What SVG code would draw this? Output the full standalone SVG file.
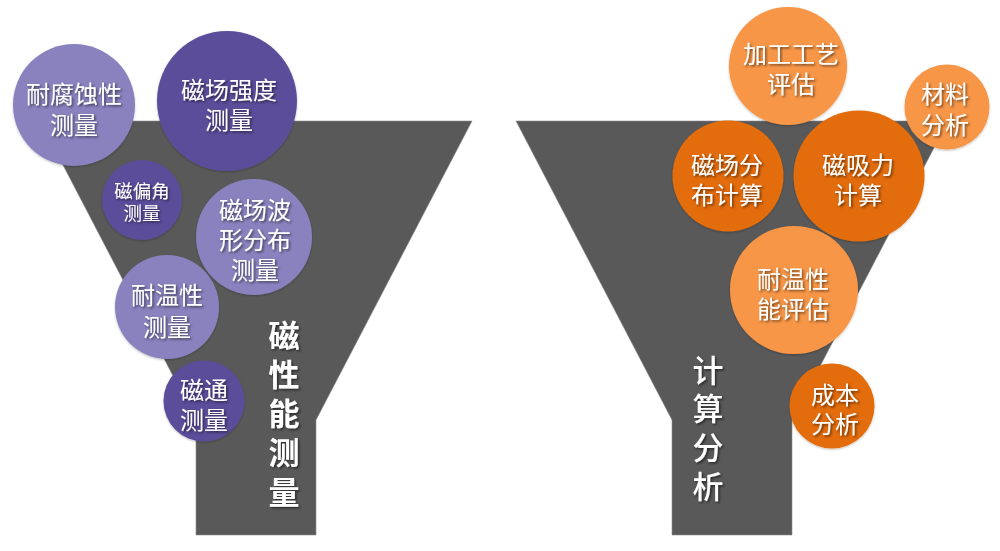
<svg xmlns="http://www.w3.org/2000/svg" width="1000" height="551" viewBox="0 0 1000 551">
<defs>
<filter id="ts" x="-20%" y="-20%" width="140%" height="140%">
<feDropShadow dx="1.5" dy="1.5" stdDeviation="0.8" flood-color="#000" flood-opacity="0.55"/>
</filter>
<filter id="cs" x="-10%" y="-10%" width="120%" height="120%">
<feDropShadow dx="0" dy="1" stdDeviation="1" flood-color="#000" flood-opacity="0.25"/>
</filter>
</defs>
<style>
.funnel{fill:#595959;stroke:#8a8a8a;stroke-width:0.6}
.lp{fill:#8a82be;filter:url(#cs)}
.dp{fill:#5b4e9b;filter:url(#cs)}
.lo{fill:#f79646;filter:url(#cs)}
.do{fill:#e36c0a;filter:url(#cs)}
text{font-family:"Microsoft YaHei","Noto Sans CJK SC","Noto Sans",sans-serif;fill:#fff;text-anchor:middle;dominant-baseline:central;filter:url(#ts)}
.t{font-size:24px}
.s{font-size:18.5px}
.v{font-size:31px;font-weight:bold}
.vr{font-size:31px;font-weight:500}
</style>
<g id="funnel-left">
<polygon class="funnel" points="40,121 472,121 316,420 316,535 196,535 196,420"/>
<text class="v"><tspan x="284" y="333">磁</tspan><tspan x="284" y="372">性</tspan><tspan x="284" y="411">能</tspan><tspan x="284" y="450">测</tspan><tspan x="284" y="490">量</tspan></text>
</g>
<g id="funnel-right">
<polygon class="funnel" points="516,121 948,121 792,420 792,535 672,535 672,420"/>
<text class="vr"><tspan x="708" y="368">计</tspan><tspan x="708" y="406">算</tspan><tspan x="708" y="445">分</tspan><tspan x="708" y="484">析</tspan></text>
</g>
<g id="connectors"/>
<g id="n-naifushi">
<circle class="lp" cx="74" cy="105" r="61"/>
<text class="t"><tspan x="74" y="92">耐腐蚀性</tspan><tspan x="74" y="123">测量</tspan></text>
</g>
<g id="n-cichangqiangdu">
<circle class="dp" cx="227" cy="101" r="70"/>
<text class="t"><tspan x="229" y="88">磁场强度</tspan><tspan x="229" y="118">测量</tspan></text>
</g>
<g id="n-cipianjiao">
<circle class="dp" cx="142" cy="200" r="40"/>
<text class="s"><tspan x="142" y="190">磁偏角</tspan><tspan x="142" y="212">测量</tspan></text>
</g>
<g id="n-bochangfenbu">
<circle class="lp" cx="254" cy="237" r="58"/>
<text class="t"><tspan x="255" y="208">磁场波</tspan><tspan x="255" y="238">形分布</tspan><tspan x="255" y="268">测量</tspan></text>
</g>
<g id="n-naiwen">
<circle class="lp" cx="167" cy="307" r="52"/>
<text class="t"><tspan x="167" y="293">耐温性</tspan><tspan x="167" y="325">测量</tspan></text>
</g>
<g id="n-citong">
<circle class="dp" cx="204" cy="401" r="40.5"/>
<text class="t"><tspan x="204" y="388">磁通</tspan><tspan x="204" y="418">测量</tspan></text>
</g>
<g id="n-jiagong">
<circle class="lo" cx="788" cy="66" r="59"/>
<text class="t"><tspan x="791" y="52">加工工艺</tspan><tspan x="791" y="82">评估</tspan></text>
</g>
<g id="n-cailiao">
<circle class="lo" cx="947" cy="107" r="42.5"/>
<text class="t"><tspan x="945" y="92">材料</tspan><tspan x="945" y="123">分析</tspan></text>
</g>
<g id="n-cichangjisuan">
<circle class="do" cx="728" cy="176" r="55.5"/>
<text class="t"><tspan x="727" y="163">磁场分</tspan><tspan x="727" y="193">布计算</tspan></text>
</g>
<g id="n-cixili">
<circle class="do" cx="859" cy="176" r="65.5"/>
<text class="t"><tspan x="858" y="163">磁吸力</tspan><tspan x="858" y="193">计算</tspan></text>
</g>
<g id="n-naiwenpinggu">
<circle class="lo" cx="794" cy="290" r="64"/>
<text class="t"><tspan x="793" y="277">耐温性</tspan><tspan x="793" y="307">能评估</tspan></text>
</g>
<g id="n-chengben">
<circle class="do" cx="832" cy="406" r="42.5"/>
<text class="t"><tspan x="835" y="393">成本</tspan><tspan x="835" y="422">分析</tspan></text>
</g>
</svg>
